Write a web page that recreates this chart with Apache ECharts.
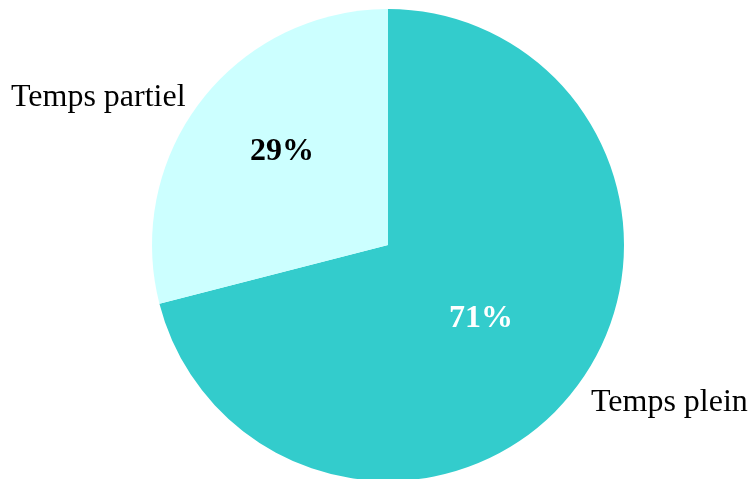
<!DOCTYPE html>
<html>
<head>
<meta charset="utf-8">
<script src="https://cdn.jsdelivr.net/npm/echarts@6/dist/echarts.min.js"></script>
<style>html,body{margin:0;padding:0;background:#fff}#c{width:754px;height:479px}</style>
</head>
<body>
<div id="c"></div>
<script>
var categories = ['Temps plein', 'Temps partiel'];
var values = [71, 29];
var colors = ['#33CCCC', '#CCFFFF'];
var pctColors = ['#ffffff', '#000000'];

var chart = echarts.init(document.getElementById('c'), null, {renderer: 'canvas'});
var data = categories.map(function (c, i) {
  return {name: c, value: values[i], itemStyle: {color: colors[i]},
    label: {color: pctColors[i]}};
});
var nameData = categories.map(function (c, i) {
  return {name: c, value: values[i]};
});
var namePos = [{x: 591, y: 403, align: 'left'}, {x: 11, y: 98, align: 'left'}];
var pctPos = [{x: 481, y: 319}, {x: 282, y: 152}];
chart.setOption({
  animation: false,
  backgroundColor: '#ffffff',
  series: [{
    type: 'pie',
    center: [388, 245],
    radius: [0, 236],
    startAngle: 90,
    clockwise: true,
    silent: true,
    data: data,
    itemStyle: {borderWidth: 0},
    label: {
      show: true, position: 'inside', formatter: '{c}%',
      fontFamily: 'Liberation Serif', fontWeight: 'bold', fontSize: 32
    },
    labelLine: {show: false},
    labelLayout: function (p) {
      return {x: pctPos[p.dataIndex].x, y: pctPos[p.dataIndex].y, align: 'center', verticalAlign: 'middle'};
    }
  }, {
    type: 'pie',
    center: [388, 245],
    radius: [0, 236],
    startAngle: 90,
    clockwise: true,
    silent: true,
    data: nameData,
    itemStyle: {color: 'rgba(0,0,0,0)', borderWidth: 0},
    label: {
      show: true, position: 'outside', formatter: '{b}', color: '#000000',
      fontFamily: 'Liberation Serif', fontSize: 32, overflow: 'none', width: 300
    },
    labelLine: {show: false},
    labelLayout: function (p) {
      var q = namePos[p.dataIndex];
      return {x: q.x, y: q.y, align: q.align, verticalAlign: 'middle'};
    }
  }]
});
</script>
</body>
</html>
